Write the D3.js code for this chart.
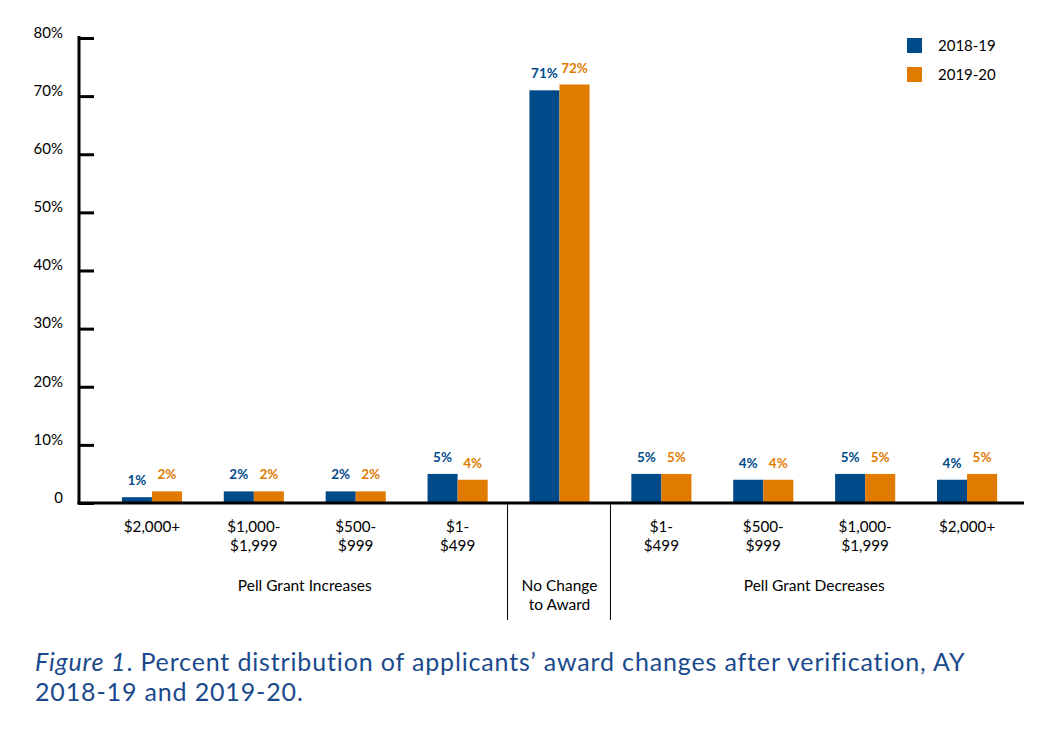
<!doctype html>
<html lang="en">
<head>
    <meta charset="utf-8">
    <title>Pell Grant award changes</title>
    <script src="https://d3js.org/d3.v7.min.js"></script>
    <style type="text/css">
        body { margin: 0; background: #fff; }
        text { font-family: Lato, "Open Sans", sans-serif; }
    </style>
</head>

<body>
</body>

<script type="text/javascript">

    var width  = 1046;
    var height = 739;

    // data
    var categories = ["$2,000+", "$1,000-\n$1,999", "$500-\n$999", "$1-\n$499", "",
                      "$1-\n$499", "$500-\n$999", "$1,000-\n$1,999", "$2,000+"];
    var series = ["2018-19", "2019-20"];
    var values1819 = [1, 2, 2, 5, 71, 5, 4, 5, 4];
    var values1920 = [2, 2, 2, 4, 72, 5, 4, 5, 5];
    var yTicks = [0, 10, 20, 30, 40, 50, 60, 70, 80];
    var groups = [
        {label: "Pell Grant Increases", from: 0, to: 3},
        {label: "No Change\nto Award", from: 4, to: 4},
        {label: "Pell Grant Decreases", from: 5, to: 8}
    ];

    var colors = ["#004a89", "#e07b00"];

    var svg = d3.select("body")
        .append("svg")
        .attr("width", width)
        .attr("height", height);

    var x = d3.scaleBand()
        .domain(d3.range(categories.length))
        .range([101, 1018])
        .paddingInner(0.41)
        .paddingOuter(0.205);

    var xSub = d3.scaleBand()
        .domain(series)
        .range([0, x.bandwidth()]);

    var y = d3.scaleLinear()
        .domain([0, 80])
        .range([503, 38]);

    var color = d3.scaleOrdinal().domain(series).range(colors);

    var rows = categories.map((c, i) => ({
        i: i,
        vals: [{s: series[0], v: values1819[i]}, {s: series[1], v: values1920[i]}]
    }));

    // bars
    var g = svg.selectAll("g.cat")
        .data(rows)
        .enter()
        .append("g")
        .attr("class", "cat")
        .attr("transform", d => "translate(" + x(d.i) + ",0)");

    g.selectAll("rect")
        .data(d => d.vals)
        .enter()
        .append("rect")
        .attr("x", d => xSub(d.s))
        .attr("y", d => y(d.v))
        .attr("width", xSub.bandwidth())
        .attr("height", d => y(0) - y(d.v))
        .style("fill", d => color(d.s));

    g.selectAll("text.val")
        .data(d => d.vals)
        .enter()
        .append("text")
        .attr("class", "val")
        .attr("x", d => xSub(d.s) + xSub.bandwidth() / 2)
        .attr("y", d => y(d.v) - 12)
        .attr("text-anchor", "middle")
        .style("font-size", "13.5px")
        .style("font-weight", "bold")
        .style("fill", d => color(d.s))
        .text(d => d.v + "%");

    // y axis
    var yAxis = d3.axisLeft(y)
        .tickValues(yTicks)
        .tickSize(-15)
        .tickPadding(16)
        .tickFormat(d => d === 0 ? "0" : d + "%");

    var ya = svg.append("g")
        .attr("transform", "translate(79,0)")
        .call(yAxis);

    ya.select(".domain").remove();
    ya.selectAll(".tick line").attr("stroke", "#000").attr("stroke-width", 3);
    ya.selectAll(".tick text")
        .attr("dy", "-0.05em")
        .style("font-size", "15px")
        .style("fill", "#000");

    svg.append("line")
        .attr("x1", 79).attr("x2", 79)
        .attr("y1", y(80) - 2).attr("y2", y(0) + 1.5)
        .attr("stroke", "#000").attr("stroke-width", 3);

    svg.append("line")
        .attr("x1", 77.5).attr("x2", 1024)
        .attr("y1", y(0)).attr("y2", y(0))
        .attr("stroke", "#000").attr("stroke-width", 3);

    // category labels
    svg.selectAll("text.cat")
        .data(categories)
        .enter()
        .append("text")
        .attr("class", "cat")
        .attr("text-anchor", "middle")
        .style("font-size", "15.2px")
        .style("fill", "#000")
        .each(function(d, i) {
            var t = d3.select(this);
            d.split("\n").forEach((line, k) => {
                t.append("tspan")
                    .attr("x", x(i) + x.bandwidth() / 2)
                    .attr("y", 532 + k * 19)
                    .text(line);
            });
        });

    // group labels and dividers
    var step = x.step();
    svg.selectAll("text.grp")
        .data(groups)
        .enter()
        .append("text")
        .attr("class", "grp")
        .attr("text-anchor", "middle")
        .style("font-size", "15.5px")
        .style("fill", "#000")
        .each(function(d) {
            var t = d3.select(this);
            var cx = (x(d.from) + x(d.to) + x.bandwidth()) / 2;
            d.label.split("\n").forEach((line, k) => {
                t.append("tspan")
                    .attr("x", cx)
                    .attr("y", 591 + k * 19)
                    .text(line);
            });
        });

    var dividers = [x(4) - (step - x.bandwidth()) / 2 - 1, x(4) + x.bandwidth() + (step - x.bandwidth()) / 2];
    svg.selectAll("line.div")
        .data(dividers)
        .enter()
        .append("line")
        .attr("class", "div")
        .attr("x1", d => d).attr("x2", d => d)
        .attr("y1", y(0)).attr("y2", 620)
        .attr("stroke", "#000").attr("stroke-width", 1);

    // legend
    var leg = svg.selectAll("g.leg")
        .data(series)
        .enter()
        .append("g")
        .attr("class", "leg")
        .attr("transform", (d, i) => "translate(907," + (38 + i * 29) + ")");

    leg.append("rect")
        .attr("width", 15).attr("height", 15)
        .style("fill", d => color(d));

    leg.append("text")
        .attr("x", 31).attr("y", 13)
        .style("font-size", "15px")
        .style("fill", "#000")
        .text(d => d);

    // caption
    var cap = svg.append("text")
        .attr("x", 35).attr("y", 671)
        .style("font-size", "25px")
        .style("letter-spacing", "0.85px")
        .style("fill", "#1a4a8c");
    cap.append("tspan").style("font-style", "italic").text("Figure 1");
    cap.append("tspan").text(". Percent distribution of applicants\u2019 award changes after verification, AY");

    svg.append("text")
        .attr("x", 35).attr("y", 701)
        .style("font-size", "25px")
        .style("letter-spacing", "0.85px")
        .style("fill", "#1a4a8c")
        .text("2018-19 and 2019-20.");

</script>

</html>
